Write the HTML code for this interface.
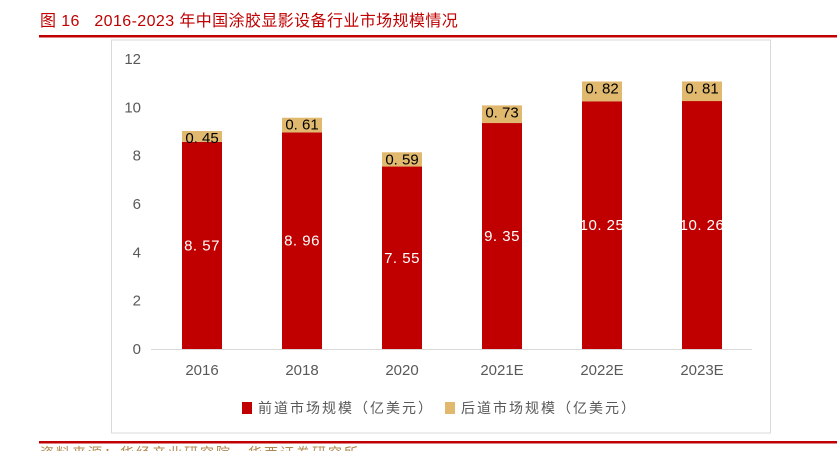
<!DOCTYPE html>
<html><head><meta charset="utf-8"><style>
body{margin:0;width:837px;height:451px;overflow:hidden;background:#fff;font-family:"Liberation Sans","Noto Sans CJK SC",sans-serif;}
</style></head><body>
<svg width="837" height="451" xmlns="http://www.w3.org/2000/svg">
<text x="40" y="26" fill="#c00000" font-size="16" letter-spacing="0.4" xml:space="preserve" style="white-space:pre" font-family="Liberation Sans, Noto Sans CJK SC, sans-serif">图 16   2016-2023 年中国涂胶显影设备行业市场规模情况</text>
<rect x="39" y="35" width="798" height="2.5" fill="#c00000"/>
<rect x="111.5" y="40" width="659" height="393" fill="none" stroke="#d9d9d9"/>
<g id="axes"></g>
<g id="bars"></g>
<g>
<rect x="242" y="402" width="10" height="12" fill="#c00000"/>
<text x="258" y="413" font-size="14" letter-spacing="2" fill="#595959" font-family="Liberation Sans, Noto Sans CJK SC, sans-serif">前道市场规模（亿美元）</text>
<rect x="445" y="402" width="10" height="12" fill="#e0b96f"/>
<text x="461" y="413" font-size="14" letter-spacing="2" fill="#595959" font-family="Liberation Sans, Noto Sans CJK SC, sans-serif">后道市场规模（亿美元）</text>
</g>
<rect x="39" y="441" width="798" height="2.5" fill="#c00000"/>
<text x="40" y="458" font-size="14" letter-spacing="2" fill="#b08a50" font-family="Liberation Sans, Noto Sans CJK SC, sans-serif">资料来源：华经产业研究院，华西证券研究所</text>
</svg>
<script>
const categories=["2016","2018","2020","2021E","2022E","2023E"];
const frontValues=[8.57,8.96,7.55,9.35,10.25,10.26];
const backValues=[0.45,0.61,0.59,0.73,0.82,0.81];
const frontLabels=["8.57","8.96","7.55","9.35","10.25","10.26"];
const backLabels=["0.45","0.61","0.59","0.73","0.82","0.81"];
const yTicks=[0,2,4,6,8,10,12];
const NS="http://www.w3.org/2000/svg";
const y=v=>349-v*(290/12);
const x=i=>202+i*100;
const F="Liberation Sans, Noto Sans CJK SC, sans-serif";
const ax=document.getElementById('axes'),bg=document.getElementById('bars');
function mk(tag,at,parent){const e=document.createElementNS(NS,tag);for(const k in at)e.setAttribute(k,at[k]);parent.appendChild(e);return e;}
yTicks.forEach(t=>{const e=mk('text',{x:141,y:y(t)+5,'text-anchor':'end','font-size':15,fill:'#595959','font-family':F},ax);e.textContent=t;

});
const base=mk('line',{x1:151,x2:752,y1:349.5,y2:349.5,stroke:'#d9d9d9'},ax);


categories.forEach((c,i)=>{
const t=mk('text',{x:x(i),y:375,'text-anchor':'middle','font-size':15,fill:'#595959','font-family':F},ax);t.textContent=c;


const f=mk('rect',{x:x(i)-20,y:y(frontValues[i]),width:40,height:y(0)-y(frontValues[i]),fill:'#c00000'},bg);


const top=frontValues[i]+backValues[i];
const b=mk('rect',{x:x(i)-20,y:y(top),width:40,height:y(frontValues[i])-y(top),fill:'#e0b96f'},bg);


const fl=mk('text',{x:x(i),y:y(frontValues[i]/2)+5,'text-anchor':'middle','font-size':15,fill:'#fff','font-family':F,'letter-spacing':'0.5'},bg);fl.textContent=frontLabels[i].replace('.','. ');


const bl=mk('text',{x:x(i),y:y(top)+12,'text-anchor':'middle','font-size':15,fill:'#000','font-family':F},bg);bl.textContent=backLabels[i].replace('.','. ');


});
</script>
</body></html>
